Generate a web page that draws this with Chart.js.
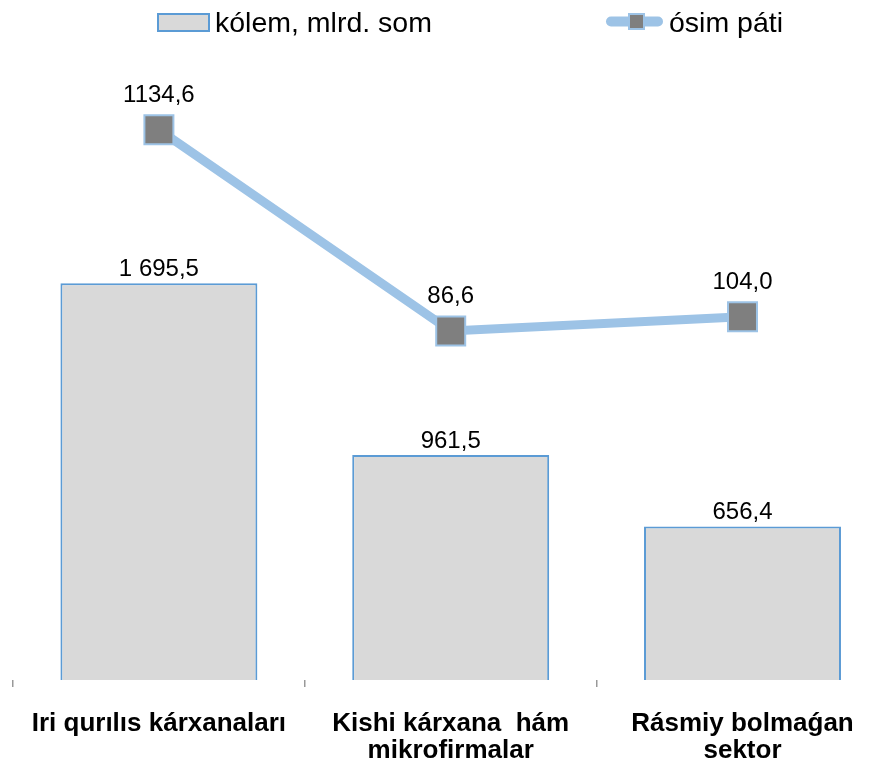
<!DOCTYPE html>
<html>
<head>
<meta charset="utf-8">
<title>Chart</title>
<script src="https://cdn.jsdelivr.net/npm/chart.js@4.4.1/dist/chart.umd.min.js"></script>
<style>
  html, body { margin: 0; padding: 0; background: #fff; overflow: hidden; }
  .wrap { position: relative; width: 900px; height: 776px; }
</style>
</head>
<body>
<div class="wrap"><canvas id="myChart" width="900" height="776"></canvas></div>
<script>
const categories = [
  "Iri qurılıs kárxanaları",
  ["Kishi kárxana  hám", "mikrofirmalar"],
  ["Rásmiy bolmaǵan", "sektor"]
];
const volume = [1695.5, 961.5, 656.4];
const growth = [1134.6, 86.6, 104.0];
const seriesNames = ["kólem, mlrd. som", "ósim páti"];

const FONT = '"Liberation Sans", Arial, sans-serif';

// 1 695,5 style for bars, 1134,6 style for the line
function fmtBar(v) {
  let parts = v.toFixed(1).split(".");
  let whole = parts[0].replace(/\B(?=(\d{3})+(?!\d))/g, " ");
  return whole + "," + parts[1];
}
function fmtLine(v) {
  return v.toFixed(1).replace(".", ",");
}

const valueLabels = {
  id: "valueLabels",
  afterDatasetsDraw(chart) {
    const c = chart.ctx;
    c.save();
    c.font = "24px " + FONT;
    c.fillStyle = "#000";
    c.textAlign = "center";
    c.textBaseline = "alphabetic";
    chart.data.datasets.forEach(function (ds, i) {
      const meta = chart.getDatasetMeta(i);
      meta.data.forEach(function (el, j) {
        if (ds.type === "bar") {
          c.fillText(fmtBar(ds.data[j]), el.x, el.y - 7);
        } else {
          c.fillText(fmtLine(ds.data[j]), el.x, el.y - 28);
        }
      });
    });
    c.restore();
  }
};

const topLegend = {
  id: "topLegend",
  afterDraw(chart) {
    const c = chart.ctx;
    c.save();
    // bar key
    c.fillStyle = "#d9d9d9";
    c.fillRect(158, 14, 51, 17);
    c.strokeStyle = "#5b9bd5";
    c.lineWidth = 2;
    c.strokeRect(158, 14, 51, 17);
    // line key
    c.strokeStyle = "#9dc3e6";
    c.lineWidth = 10;
    c.lineCap = "round";
    c.beginPath();
    c.moveTo(611, 21.5);
    c.lineTo(658, 21.5);
    c.stroke();
    c.fillStyle = "#7f7f7f";
    c.fillRect(629, 14, 15, 15);
    c.lineWidth = 2;
    c.strokeRect(629, 14, 15, 15);

    c.font = "28.5px " + FONT;
    c.fillStyle = "#000";
    c.textBaseline = "alphabetic";
    c.fillText(seriesNames[0], 215, 32);
    c.fillText(seriesNames[1], 669, 32);
    c.restore();
  }
};

const ctx = document.getElementById("myChart");

new Chart(ctx, {
  data: {
    labels: categories,
    datasets: [
      {
        type: "line",
        label: seriesNames[1],
        data: growth,
        yAxisID: "y2",
        order: 0,
        borderColor: "#9dc3e6",
        borderWidth: 9,
        pointStyle: "rect",
        pointRadius: 20.5,
        pointHoverRadius: 20.5,
        pointBackgroundColor: "#7f7f7f",
        pointBorderColor: "#9dc3e6",
        pointBorderWidth: 2,
        tension: 0,
        fill: false,
        clip: false
      },
      {
        type: "bar",
        label: seriesNames[0],
        data: volume,
        yAxisID: "y",
        order: 1,
        backgroundColor: "#d9d9d9",
        borderColor: "#5b9bd5",
        borderWidth: 2,
        categoryPercentage: 1,
        barPercentage: 0.675
      }
    ]
  },
  options: {
    responsive: false,
    animation: false,
    layout: {
      autoPadding: false,
      padding: { left: 13, right: 11.6, top: 50, bottom: 0 }
    },
    plugins: {
      legend: { display: false },
      tooltip: { enabled: false }
    },
    scales: {
      x: {
        grid: {
          display: true,
          drawOnChartArea: false,
          drawTicks: true,
          tickLength: 7,
          color: "#999999",
          lineWidth: 1.5
        },
        border: { display: false },
        ticks: {
          color: "#000",
          font: { family: FONT, size: 26, weight: "bold", lineHeight: 1.04 },
          padding: 23,
          maxRotation: 0,
          autoSkip: false
        },
        afterFit(scale) {
          scale.height = 96;
          scale.paddingLeft = 0;
          scale.paddingRight = 0;
        }
      },
      y: { display: false, min: 0, max: 2693 },
      y2: { display: false, type: "logarithmic", min: 1, max: 3148 }
    }
  },
  plugins: [valueLabels, topLegend]
});
</script>
</body>
</html>
